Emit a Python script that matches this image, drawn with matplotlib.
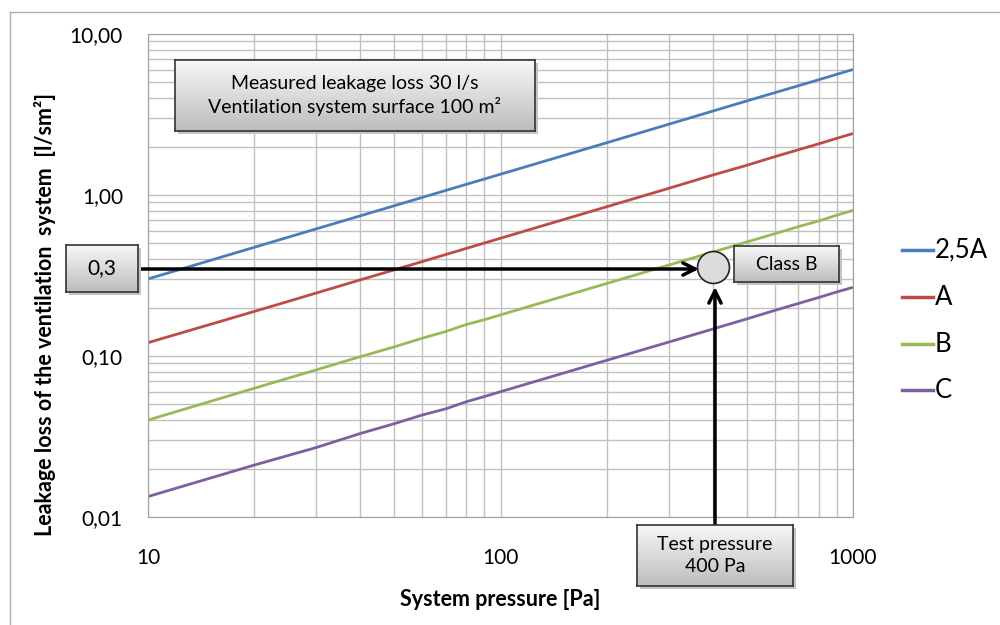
import numpy as np
import matplotlib
matplotlib.use("Agg")
import matplotlib.pyplot as plt
from matplotlib.lines import Line2D

plt.rcParams['font.family'] = ['Lato', 'DejaVu Sans']

# system pressure [Pa]
pressure = [10, 20, 30, 40, 50, 60, 70, 80, 90, 100,
            200, 300, 400, 500, 600, 700, 800, 900, 1000]
# leakage loss [l/sm2] per class
class_25a = [0.301, 0.473, 0.616, 0.742, 0.858, 0.966, 1.068, 1.165, 1.257, 1.346,
             2.11, 2.75, 3.32, 3.84, 4.32, 4.77, 5.20, 5.62, 6.02]
class_a = [0.121, 0.189, 0.246, 0.297, 0.343, 0.386, 0.427, 0.466, 0.503, 0.539,
           0.845, 1.10, 1.33, 1.53, 1.73, 1.91, 2.08, 2.25, 2.41]
class_b = [0.040, 0.063, 0.082, 0.099, 0.114, 0.129, 0.142, 0.157, 0.168, 0.180,
           0.282, 0.367, 0.442, 0.511, 0.575, 0.636, 0.690, 0.750, 0.802]
class_c = [0.0134, 0.021, 0.027, 0.033, 0.038, 0.043, 0.047, 0.052, 0.056, 0.060,
           0.094, 0.122, 0.147, 0.170, 0.192, 0.212, 0.231, 0.250, 0.267]
series_names = ['2,5A', 'A', 'B', 'C']
series_colors = ['#4a7ebb', '#be4b48', '#98b954', '#7d60a0']

y_ticks = [0.01, 0.1, 1, 10]
y_ticklabels = ['0,01', '0,10', '1,00', '10,00']
x_ticks = [10, 100, 1000]
x_ticklabels = ['10', '100', '1000']

test_pressure = 400
measured_loss = 0.355   # position of the marker as drawn in the chart


W, H = 1000, 625


def fx(x):
    return x / W


def fy(y):
    return 1 - y / H


fig = plt.figure(figsize=(10, 6.25), dpi=100)
ax = fig.add_axes([fx(148), fy(517), fx(853 - 148), (517 - 34) / H])

for vals, name, col in zip([class_25a, class_a, class_b, class_c], series_names, series_colors):
    ax.plot(pressure, vals, color=col, lw=2, label=name, solid_capstyle='butt')

ax.set_xscale('log')
ax.set_yscale('log')
ax.set_xlim(10, 1000)
ax.set_ylim(0.01, 10)
ax.set_xticks(x_ticks)
ax.set_xticklabels(x_ticklabels)
ax.set_yticks(y_ticks)
ax.set_yticklabels(y_ticklabels)
ax.grid(True, which='both', color='#c0c0c0', lw=1)
ax.set_axisbelow(True)
ax.tick_params(which='both', length=0, labelsize=15)
ax.tick_params(axis='x', pad=22)
ax.tick_params(axis='y', pad=18)
for s in ax.spines.values():
    s.set_color('#a0a0a0')

fig.text(fx(500), fy(600), 'System pressure [Pa]', ha='center', va='center',
         fontsize=15.5, fontweight='bold')
fig.text(fx(45), fy(314), 'Leakage loss of the ventilation  system  [l/sm\u00b2]',
         ha='center', va='center', rotation=90, fontsize=15.5, fontweight='bold')

# legend, drawn by hand to sit where the reference has it
leg_y = [250, 297, 344, 390]
for name, col, yy in zip(series_names, series_colors, leg_y):
    fig.add_artist(Line2D([fx(902), fx(933)], [fy(yy), fy(yy)], color=col, lw=2.5))
    fig.text(fx(935), fy(yy), name, ha='left', va='center', fontsize=18.5)

# outer frame
fig.add_artist(Line2D([fx(10), fx(1000)], [fy(12), fy(12)], color='#b0b0b0', lw=1))
fig.add_artist(Line2D([fx(10), fx(10)], [fy(12), fy(625)], color='#b0b0b0', lw=1))

grad = np.linspace(0.97, 0.74, 50).reshape(-1, 1)


def text_box(x0, y0, x1, y1, txt, size):
    sax = fig.add_axes([fx(x0 + 3), fy(y1 + 3), fx(x1 - x0), (y1 - y0) / H])
    sax.set_facecolor('#c4c4c4')
    sax.set_xticks([])
    sax.set_yticks([])
    for s in sax.spines.values():
        s.set_visible(False)
    bax = fig.add_axes([fx(x0), fy(y1), fx(x1 - x0), (y1 - y0) / H])
    bax.imshow(grad, cmap='gray', vmin=0, vmax=1, aspect='auto', extent=[0, 1, 0, 1])
    bax.set_xticks([])
    bax.set_yticks([])
    for s in bax.spines.values():
        s.set_color('#333333')
        s.set_linewidth(1.2)
    bax.text(0.5, 0.5, txt, ha='center', va='center', fontsize=size,
             transform=bax.transAxes, linespacing=1.3)
    return bax


# arrows
ax.annotate('', xy=(fx(699), fy(269)), xytext=(fx(138), fy(269)),
            xycoords='figure fraction', textcoords='figure fraction',
            arrowprops=dict(arrowstyle='->', lw=2.5, color='black', mutation_scale=22,
                            shrinkA=0, shrinkB=0))
ax.annotate('', xy=(fx(715), fy(287)), xytext=(fx(715), fy(525)),
            xycoords='figure fraction', textcoords='figure fraction',
            arrowprops=dict(arrowstyle='->', lw=2.5, color='black', mutation_scale=22,
                            shrinkA=0, shrinkB=0))
ax.plot([test_pressure], [measured_loss], marker='o', markersize=23,
        markerfacecolor='#dcdcdc', markeredgecolor='#222222', markeredgewidth=1.2,
        clip_on=False, zorder=5)

text_box(175, 60, 535, 131, 'Measured leakage loss 30 l/s\nVentilation system surface 100 m\u00b2', 14)
text_box(66, 245, 138, 292, '0,3', 15)
text_box(734, 246, 839, 282, 'Class B', 14)
text_box(637, 525, 793, 586, 'Test pressure\n400 Pa', 14)

fig.savefig('out.png', dpi=100)
